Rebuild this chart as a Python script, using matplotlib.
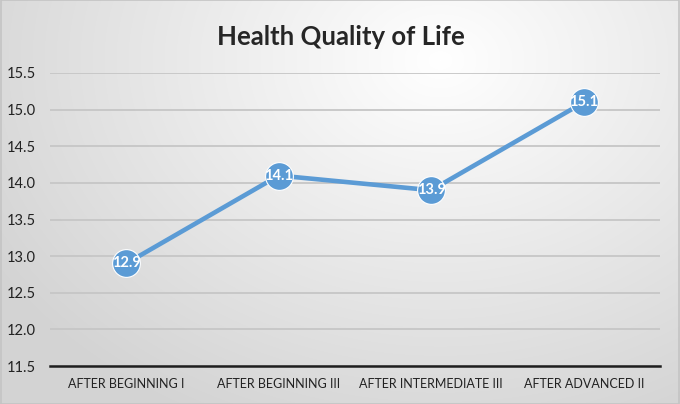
import numpy as np
import matplotlib
matplotlib.use("Agg")
import matplotlib.pyplot as plt

categories = ["AFTER BEGINNING I", "AFTER BEGINNING III", "AFTER INTERMEDIATE III", "AFTER ADVANCED II"]
values = [12.9, 14.1, 13.9, 15.1]
y_ticks = [11.5, 12.0, 12.5, 13.0, 13.5, 14.0, 14.5, 15.0, 15.5]

W, H = 680, 404
fig = plt.figure(figsize=(W/100, H/100), dpi=100)
FONT = 'Lato'

# radial gradient background
bg = fig.add_axes([0, 0, 1, 1], zorder=-10)
yy, xx = np.mgrid[0:H, 0:W]
cx, cy = 440, 60
r = np.sqrt(((xx - cx) / 520.0) ** 2 + ((yy - cy) / 400.0) ** 2)
r = np.clip(r, 0, 1)
light = 1.0 - 0.17 * r
img = np.dstack([light, light, light])
bg.imshow(img, extent=[0, 1, 0, 1], aspect='auto', origin='upper')
bg.set_xlim(0, 1); bg.set_ylim(0, 1)
bg.axis('off')
bg.plot([0.001, 0.999, 0.999, 0.001, 0.001], [0.001, 0.001, 0.999, 0.999, 0.001], color='#c4c4c4', lw=1.2)

ax = fig.add_axes([50/W, 1 - 366/H, 610/W, (366 - 73)/H])
ax.patch.set_alpha(0)
x = np.arange(len(categories))
ax.set_xlim(-0.5, len(categories) - 0.5)
ax.set_ylim(11.5, 15.5)
ax.set_yticks(y_ticks)
ax.set_yticklabels([f"{v:.1f}" for v in y_ticks], fontfamily=FONT, fontsize=10.5,
                   color='#222222')
ax.set_xticks(x)
ax.set_xticklabels(categories, fontfamily=FONT, fontsize=9, color='#222222')
ax.tick_params(axis='both', length=0)
ax.tick_params(axis='y', pad=10)
ax.tick_params(axis='x', pad=9)
for s in ['top', 'right', 'left']:
    ax.spines[s].set_visible(False)
ax.spines['bottom'].set_color('#1e1e1e')
ax.spines['bottom'].set_linewidth(1.8)
ax.grid(axis='y', color='#c6c6c6', lw=1.3)
ax.set_axisbelow(True)

ax.plot(x, values, color='#5B9BD5', lw=3.3, marker='o', markersize=20,
        markerfacecolor='#5B9BD5', markeredgecolor='white', markeredgewidth=0.8, zorder=3)
for xi, v in zip(x, values):
    ax.text(xi, v, f"{v:.1f}", ha='center', va='center', color='white',
            fontsize=10.5, fontweight='bold', fontfamily=FONT, zorder=4)

fig.text(341/W, 1 - 37/H, "Health Quality of Life", ha='center', va='center',
         fontsize=18.5, fontweight='bold', fontfamily=FONT, color='#262626')

fig.savefig("out.png", dpi=100)
